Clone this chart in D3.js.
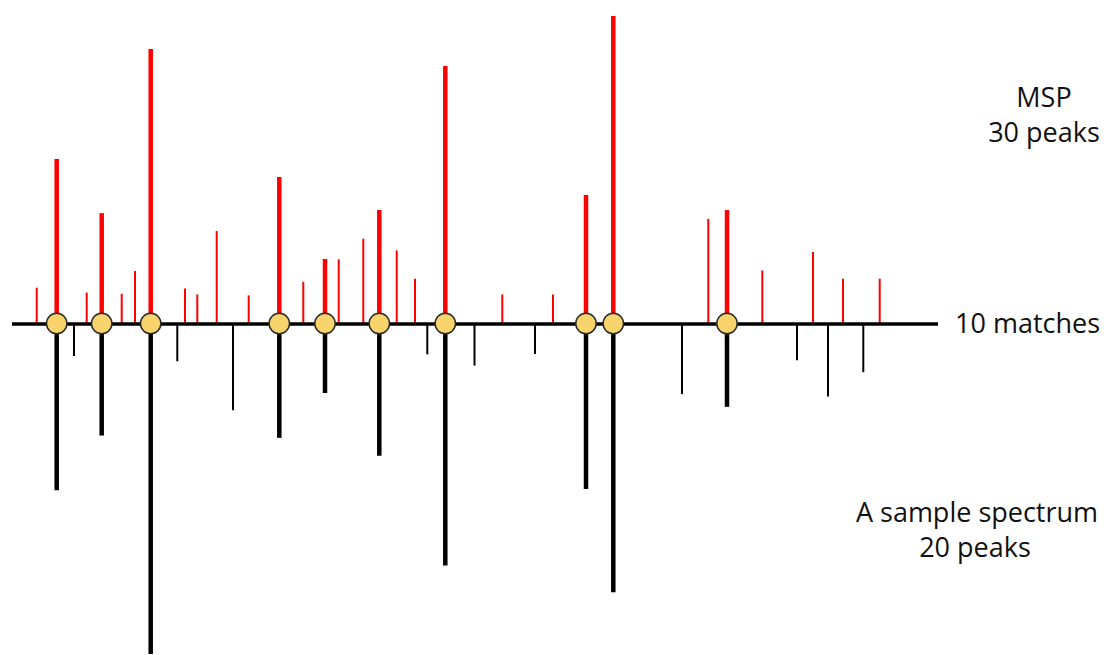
<!DOCTYPE html>
<html>
<head>
<meta charset="utf-8">
<script src="https://cdn.jsdelivr.net/npm/d3@7"></script>
<style>
  html, body { margin: 0; padding: 0; background: #fff; }
  svg { display: block; }
  text { font-family: "Open Sans", "Noto Sans", sans-serif; fill: #111; }
</style>
</head>
<body>
<script>
// library spectrum (MSP), 30 peaks: m/z and relative intensity
const mspMz = [24.7, 44.7, 74.7, 89.7, 109.7, 123, 138.7, 173, 185.3, 204.7,
               236.7, 267.3, 291.3, 313, 326.7, 351.3, 367.3, 384.7, 403, 433.3,
               490.3, 541, 574, 601.3, 696.3, 715, 750.3, 801, 831, 867.7];
const mspInt = [11.8, 53.6, 10.2, 36, 9.8, 17.2, 89.3, 11.5, 9.6, 30.2,
                9.3, 47.7, 13.7, 21.1, 21, 27.7, 37, 23.9, 14.7, 83.8,
                9.6, 9.6, 41.9, 100, 34.1, 37, 17.4, 23.4, 14.7, 14.7];

// sample spectrum, 20 peaks
const sampleMz = [44.7, 62, 89.7, 138.7, 165.3, 221, 267.3, 313, 367.3, 415.3,
                  433.3, 462.5, 523, 574, 601.3, 670, 715, 785, 816, 851.3];
const sampleInt = [50.4, 9.7, 33.8, 100, 11.3, 26.1, 34.5, 20.9, 39.9, 9.2,
                   73.2, 12.6, 9.1, 50, 81.3, 21.2, 25.1, 11, 22, 14.6];

// peaks found in both spectra
const matchMz = [44.7, 89.7, 138.7, 267.3, 313, 367.3, 433.3, 574, 601.3, 715];

const width = 1106;
const height = 655;
const axisY = 324;

const svg = d3.select("body")
              .append("svg")
              .attr("width", width)
              .attr("height", height);

const x = d3.scaleLinear().domain([0, 926]).range([12, 938]);
const yUp = d3.scaleLinear().domain([0, 100]).range([axisY, 16]);
const yDown = d3.scaleLinear().domain([0, 100]).range([axisY, 654]);

const isMatch = mz => matchMz.includes(mz);

const msp = mspMz.map((mz, i) => ({mz: mz, v: mspInt[i]}));
const sample = sampleMz.map((mz, i) => ({mz: mz, v: sampleInt[i]}));

svg.append("g")
   .selectAll("line")
   .data(msp)
   .enter()
   .append("line")
   .attr("x1", d => x(d.mz))
   .attr("x2", d => x(d.mz))
   .attr("y1", axisY)
   .attr("y2", d => yUp(d.v))
   .attr("stroke", "#ff0000")
   .attr("stroke-width", d => isMatch(d.mz) ? 4.5 : 2);

svg.append("g")
   .selectAll("line")
   .data(sample)
   .enter()
   .append("line")
   .attr("x1", d => x(d.mz))
   .attr("x2", d => x(d.mz))
   .attr("y1", axisY)
   .attr("y2", d => yDown(d.v))
   .attr("stroke", "#000")
   .attr("stroke-width", d => isMatch(d.mz) ? 4.5 : 2);

svg.append("line")
   .attr("x1", x(0))
   .attr("x2", x(926))
   .attr("y1", axisY)
   .attr("y2", axisY)
   .attr("stroke", "#000")
   .attr("stroke-width", 3.7);

svg.append("g")
   .selectAll("circle")
   .data(matchMz)
   .enter()
   .append("circle")
   .attr("cx", d => x(d))
   .attr("cy", axisY - 0.5)
   .attr("r", 10.2)
   .attr("fill", "#f9d46c")
   .attr("stroke", "#2a2a2a")
   .attr("stroke-width", 1.5);

const fs = 27;

svg.append("text").attr("x", 1044).attr("y", 107).attr("text-anchor", "middle")
   .style("font-size", fs + "px").text("MSP");
svg.append("text").attr("x", 1044).attr("y", 142).attr("text-anchor", "middle")
   .style("font-size", fs + "px").text("30 peaks");

svg.append("text").attr("x", 955).attr("y", 333).attr("text-anchor", "start")
   .style("font-size", fs + "px").text("10 matches");

svg.append("text").attr("x", 977).attr("y", 522).attr("text-anchor", "middle")
   .style("font-size", fs + "px").text("A sample spectrum");
svg.append("text").attr("x", 975).attr("y", 557).attr("text-anchor", "middle")
   .style("font-size", fs + "px").text("20 peaks");
</script>
</body>
</html>
